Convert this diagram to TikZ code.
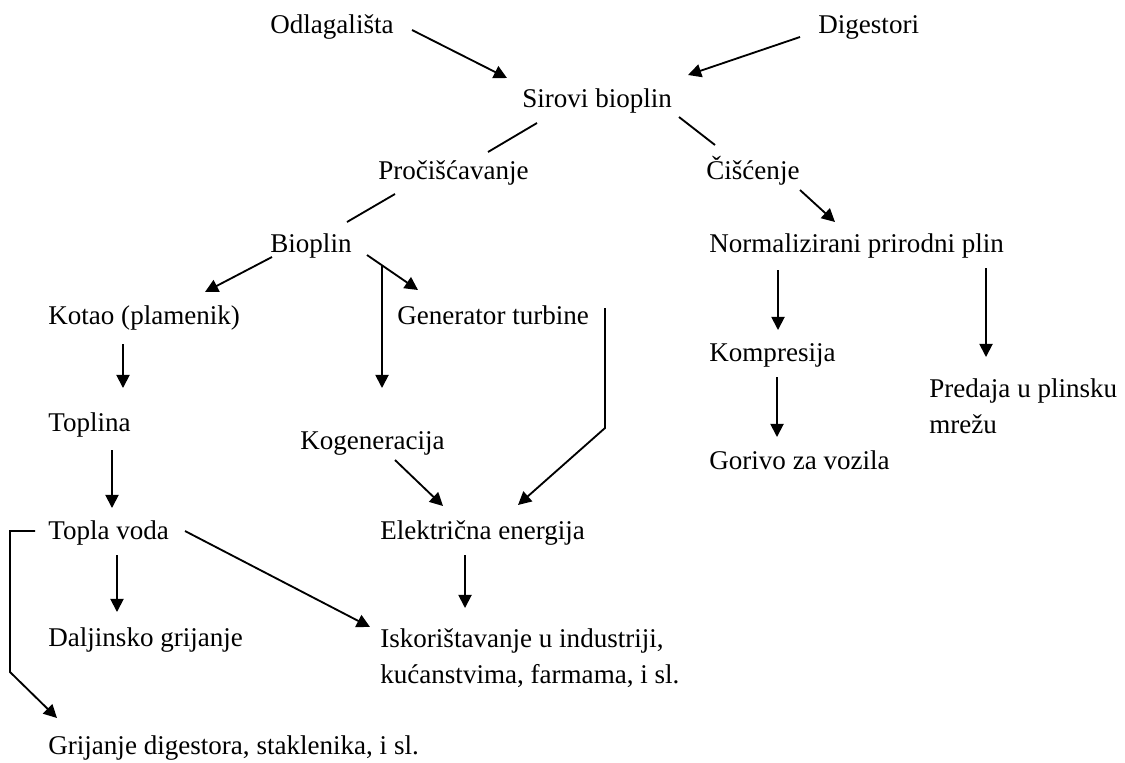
\documentclass[tikz,border=0pt]{standalone}
\usepackage{fontspec}
\setmainfont{Liberation Serif}
\usetikzlibrary{arrows.meta}

\begin{document}
\begin{tikzpicture}[x=0.02cm, y=-0.02cm,
    lbl/.style={font=\fontsize{15.4}{20.5}\selectfont, inner sep=0pt, anchor=base west},
    lbltwo/.style={font=\fontsize{15.4}{20.5}\selectfont, inner sep=0pt, anchor=north west, align=left},
    arr/.style={-{Triangle[length=7.5pt,width=7.5pt]}, line width=1.05pt},
    ln/.style={line width=1.05pt}]
    \useasboundingbox (0,0) rectangle (1125,762);

    \node [lbl] (odl) at (270, 33) {Odlagališta};
    \node [lbl] (dig) at (818, 33) {Digestori};
    \node [lbl] (sir) at (522, 107) {Sirovi bioplin};
    \node [lbl] (pro) at (378, 179) {Pročišćavanje};
    \node [lbl] (cis) at (706, 179) {Čišćenje};
    \node [lbl] (bio) at (270, 252) {Bioplin};
    \node [lbl] (npp) at (709, 252) {Normalizirani prirodni plin};
    \node [lbl] (kot) at (48, 324) {Kotao (plamenik)};
    \node [lbl] (gen) at (397, 324) {Generator turbine};
    \node [lbl] (kom) at (709, 361) {Kompresija};
    \node [lbltwo] (pre) at (929, 378) {Predaja u plinsku\\mrežu};
    \node [lbl] (top) at (48, 431) {Toplina};
    \node [lbl] (kog) at (300, 449) {Kogeneracija};
    \node [lbl] (gor) at (709, 469) {Gorivo za vozila};
    \node [lbl] (tv) at (48, 539) {Topla voda};
    \node [lbl] (ele) at (380, 539) {Električna energija};
    \node [lbl] (dal) at (48, 646) {Daljinsko grijanje};
    \node [lbltwo] (isk) at (380, 628) {Iskorištavanje u industriji,\\kućanstvima, farmama, i sl.};
    \node [lbl] (grij) at (48, 754) {Grijanje digestora, staklenika, i sl.};

    % ulazi
    \draw [arr] ([shift={(142,-3)}]odl.base west) -- ([shift={(-15,-29)}]sir.base west);
    \draw [arr] ([shift={(-18,4)}]dig.base west) -- ([shift={(166,-32)}]sir.base west);

    % grananje sirovog bioplina
    \draw [ln] ([shift={(15,16)}]sir.base west) -- ([shift={(110,-27)}]pro.base west);
    \draw [ln] ([shift={(157,10)}]sir.base west) -- ([shift={(9,-34)}]cis.base west);
    \draw [ln] ([shift={(17,15)}]pro.base west) -- ([shift={(77,-30)}]bio.base west);
    \draw [arr] ([shift={(94,11)}]cis.base west) -- ([shift={(126,-30)}]npp.base west);

    % bioplin
    \draw [arr] ([shift={(2,5)}]bio.base west) -- ([shift={(157,-32)}]kot.base west);
    \draw [arr] ([shift={(97,3)}]bio.base west) -- ([shift={(21,-34)}]gen.base west);
    \draw [arr] ([shift={(112,13)}]bio.base west) -- ([shift={(82,-61)}]kog.base west);
    \draw [arr] ([shift={(208,-16)}]gen.base west) -- ([shift={(208,104)}]gen.base west) -- ([shift={(138,-34)}]ele.base west);
    \draw [arr] ([shift={(95,11)}]kog.base west) -- ([shift={(63,-33)}]ele.base west);

    % toplina
    \draw [arr] ([shift={(75,20)}]kot.base west) -- ([shift={(75,-43)}]top.base west);
    \draw [arr] ([shift={(64,19)}]top.base west) -- ([shift={(64,-31)}]tv.base west);
    \draw [arr] ([shift={(69,16)}]tv.base west) -- ([shift={(69,-34)}]dal.base west);
    \draw [arr] ([shift={(137,-8)}]tv.base west) -- ([shift={(-10,-1)}]isk.north west);
    \draw [arr] ([shift={(85,16)}]ele.base west) -- ([shift={(85,-20)}]isk.north west);
    \draw [arr] ([shift={(-13,-8)}]tv.base west) -- ([shift={(-38,-8)}]tv.base west) -- ([shift={(-38,133)}]tv.base west) -- ([shift={(9,-36)}]grij.base west);

    % prirodni plin
    \draw [arr] ([shift={(69,18)}]npp.base west) -- ([shift={(69,-31)}]kom.base west);
    \draw [arr] ([shift={(277,16)}]npp.base west) -- ([shift={(57,-21)}]pre.north west);
    \draw [arr] ([shift={(68,16)}]kom.base west) -- ([shift={(68,-32)}]gor.base west);
\end{tikzpicture}
\end{document}
